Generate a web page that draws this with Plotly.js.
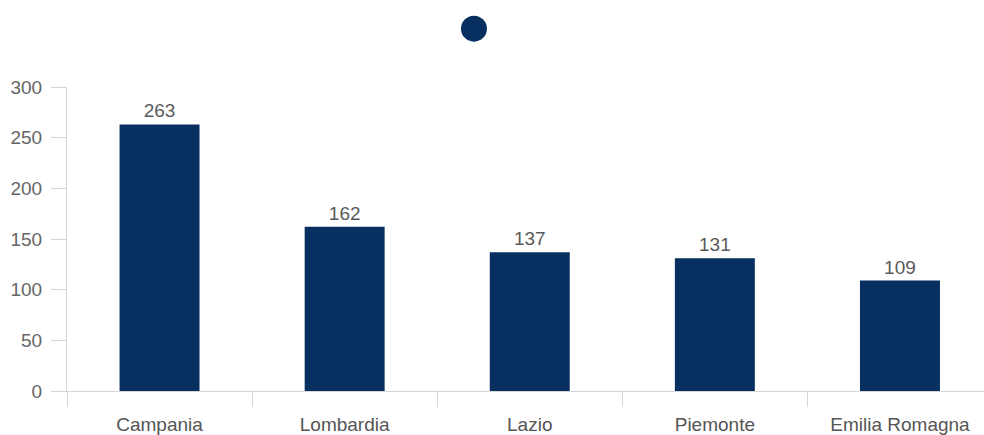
<!DOCTYPE html>
<html>
<head>
<meta charset="utf-8">
<script src="https://cdn.plot.ly/plotly-3.0.1.min.js"></script>
<style>html,body{margin:0;padding:0;background:#fff;overflow:hidden}#chart{width:984px;height:435px}</style>
</head>
<body>
<div id="chart"></div>
<script>
var regions = ["Campania", "Lombardia", "Lazio", "Piemonte", "Emilia Romagna"];
var counts = [263, 162, 137, 131, 109];
var yTicks = [0, 50, 100, 150, 200, 250, 300];

var barColor = "#072f5f";
var fontFam = "'Liberation Sans', Arial, sans-serif";
var trace = {
  type: "bar",
  x: regions,
  y: counts,
  width: 0.432,
  marker: {color: barColor},
  text: counts.map(String),
  textposition: "outside",
  textfont: {family: fontFam, size: 19, color: "#5a5a5a"},
  cliponaxis: false,
  hoverinfo: "x+y",
  showlegend: false
};

var layout = {
  width: 984,
  height: 435,
  margin: {l: 67, r: 0, t: 87, b: 44},
  paper_bgcolor: "#ffffff",
  plot_bgcolor: "#ffffff",
  font: {family: fontFam, color: "#666666", size: 19},
  bargap: 0.568,
  xaxis: {
    type: "category",
    range: [-0.5, 4.454],
    showline: true,
    linecolor: "#d6d6d6",
    linewidth: 1,
    ticks: "outside",
    tickson: "boundaries",
    ticklen: 15,
    tickcolor: "#d6d6d6",
    showgrid: false,
    zeroline: false,
    tickfont: {family: fontFam, size: 19, color: "#555555"},
    ticklabelstandoff: 16,
    fixedrange: true
  },
  yaxis: {
    range: [0, 300],
    tickvals: yTicks,
    ticktext: yTicks.map(String),
    showline: true,
    linecolor: "#d6d6d6",
    linewidth: 1,
    ticks: "outside",
    ticklen: 15,
    tickcolor: "#d6d6d6",
    showgrid: false,
    zeroline: false,
    tickfont: {family: fontFam, size: 19, color: "#666666"},
    ticklabelstandoff: 5,
    fixedrange: true
  },
  shapes: [{
    type: "circle",
    xref: "paper", yref: "paper",
    xsizemode: "pixel", ysizemode: "pixel",
    xanchor: 0.4438, yanchor: 1.192,
    x0: -13, x1: 13, y0: -13, y1: 13,
    fillcolor: barColor,
    line: {width: 0}
  }]
};

Plotly.newPlot("chart", [trace], layout, {displayModeBar: false, staticPlot: true});
</script>
</body>
</html>
